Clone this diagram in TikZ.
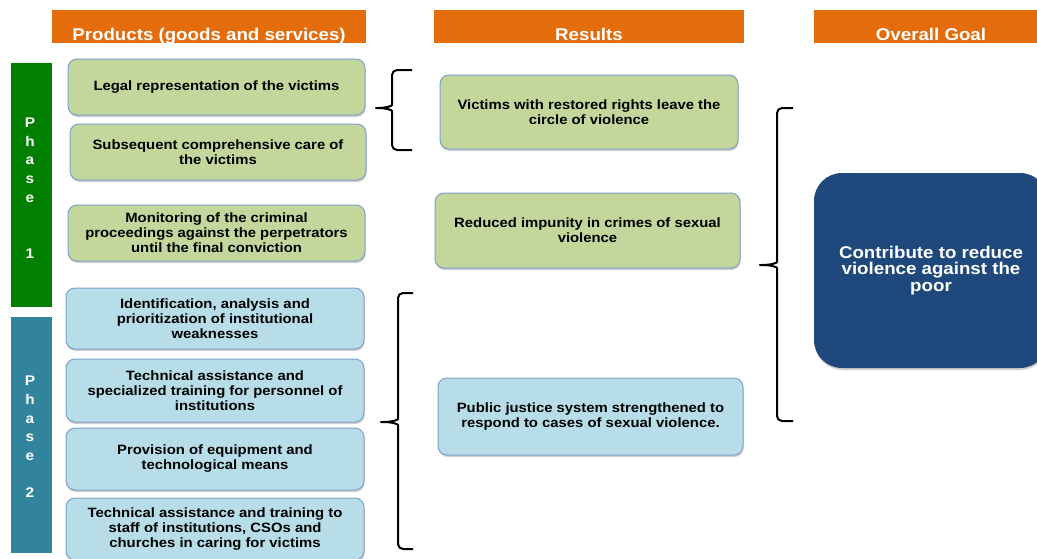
\documentclass[tikz,border=0pt]{standalone}
\usepackage{fontspec}
\setmainfont{Liberation Sans}[FakeStretch=1.1]
\usetikzlibrary{shadows}
\definecolor{hdrorange}{HTML}{E46C0A}
\definecolor{prodgreen}{HTML}{C3D69B}
\definecolor{prodblue}{HTML}{B7DEE8}
\definecolor{edgeblue}{HTML}{7F9FCB}
\definecolor{phaseone}{HTML}{007F00}
\definecolor{phasetwo}{HTML}{31849B}
\definecolor{goalblue}{HTML}{1F497D}

\begin{document}
\begin{tikzpicture}[x=1pt,y=-1pt,
  header/.style={fill=hdrorange, text=white, font=\fontsize{17}{20}\selectfont\bfseries,
    inner sep=0pt, text height=30pt, text depth=3pt, anchor=base},
  card/.style={draw=edgeblue, line width=1pt, rounded corners=9pt, align=center,
    font=\fontsize{13.5}{15}\selectfont\bfseries, inner sep=0pt,
    drop shadow={shadow xshift=0.6pt, shadow yshift=-2pt, opacity=0.3, fill=black!60}},
  greencard/.style={card, fill=prodgreen},
  bluecard/.style={card, fill=prodblue},
  phasebar/.style={inner sep=0pt, anchor=north west, minimum width=41pt},
  phaselabel/.style={text=white, font=\fontsize{14}{18.7}\selectfont\bfseries, align=center, inner sep=0pt},
  bracket/.style={line width=2pt, line join=round, rounded corners=5pt}
]
\useasboundingbox (0,0) rectangle (1037,558);
\fill[white] (0,0) rectangle (1037,558);

% column headers
\node[header, minimum width=314pt] (hprod) at (209,40) {Products (goods and services)};
\node[header, minimum width=310pt] (hres) at (589,40) {Results};
\node[header, minimum width=234pt] (hgoal) at (931,40) {Overall Goal};

% phase bars
\node[phasebar, fill=phaseone, minimum height=244pt] (ph1) at (11,63) {};
\node[phasebar, fill=phasetwo, minimum height=236pt] (ph2) at (11,317) {};
\node[phaselabel] (ph1l) at (30,188) {P\\h\\a\\s\\e\\[37.4pt]1};
\node[phaselabel] (ph2l) at (30,437) {P\\h\\a\\s\\e\\[18.7pt]2};

% products
\node[greencard, minimum width=297pt, minimum height=56pt] (p1) at (216.5,87) {Legal representation of the victims};
\node[greencard, minimum width=296pt, minimum height=56pt] (p2) at (218,152) {Subsequent comprehensive care of\\the victims};
\node[greencard, minimum width=297pt, minimum height=56pt] (p3) at (216.5,233) {Monitoring of the criminal\\proceedings against the perpetrators\\until the final conviction};
\node[bluecard, minimum width=298pt, minimum height=61pt] (p4) at (215,318.5) {Identification, analysis and\\prioritization of institutional\\weaknesses};
\node[bluecard, minimum width=298pt, minimum height=63pt] (p5) at (215,390.5) {Technical assistance and\\specialized training for personnel of\\institutions};
\node[bluecard, minimum width=298pt, minimum height=62pt] (p6) at (215,459) {Provision of equipment and\\technological means};
\node[bluecard, minimum width=298pt, minimum height=62pt] (p7) at (215,529) {Technical assistance and training to\\staff of institutions, CSOs and\\churches in caring for victims};

% results
\node[greencard, minimum width=298pt, minimum height=74pt] (r1) at (589,112) {Victims with restored rights leave the\\circle of violence};
\node[greencard, minimum width=305pt, minimum height=75pt] (r2) at (587.5,230.5) {Reduced impunity in crimes of sexual\\violence};
\node[bluecard, minimum width=305pt, minimum height=77pt] (r3) at (590.5,416.5) {Public justice system strengthened to\\respond to cases of sexual violence.};

% overall goal
\node[fill=goalblue, rounded corners=28pt, minimum width=234pt, minimum height=195pt,
  text=white, align=center, font=\fontsize{17}{16.5}\selectfont\bfseries,
  drop shadow={shadow xshift=0.6pt, shadow yshift=-2pt, opacity=0.3, fill=black!60}]
  (goal) at (931,270.5) {Contribute to reduce\\violence against the\\poor};

% grouping brackets
\draw[bracket] (412,70) -- (392,70) -- (392,100)
  .. controls (392,106) and (386,108) .. (373,108)
  .. controls (386,108) and (392,110) .. (392,116) -- (392,150) -- (412,150);
\draw[bracket] (413,293) -- (398,293) -- (398,414)
  .. controls (398,420) and (392,422) .. (378,422)
  .. controls (392,422) and (398,424) .. (398,430) -- (398,549) -- (413,549);
\draw[bracket] (793,108) -- (777,108) -- (777,257)
  .. controls (777,263) and (771,265) .. (757,265)
  .. controls (771,265) and (777,267) .. (777,273) -- (777,421) -- (793,421);
\end{tikzpicture}
\end{document}
